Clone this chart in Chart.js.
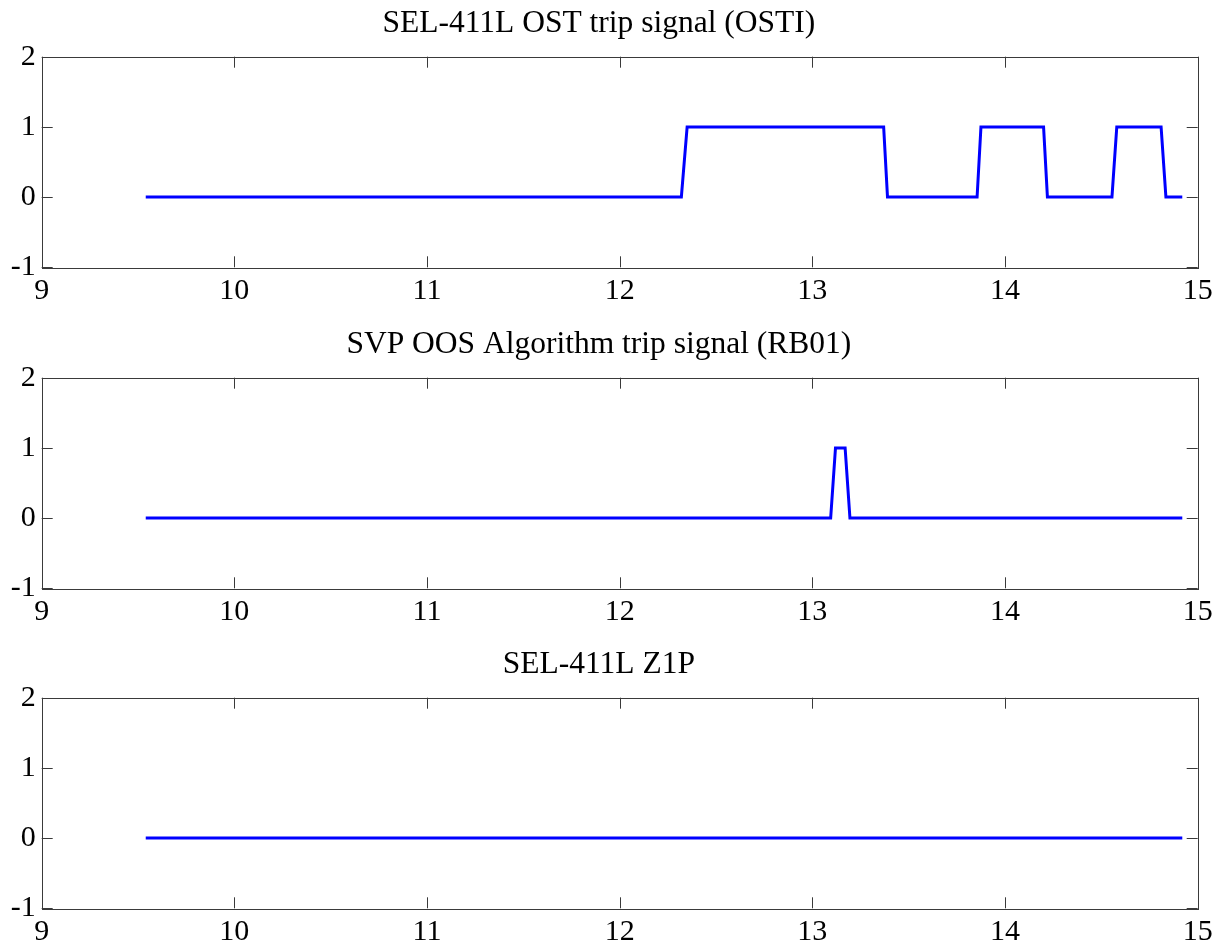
<!DOCTYPE html>
<html>
<head>
<meta charset="utf-8">
<script src="https://cdn.jsdelivr.net/npm/chart.js@4.4.1/dist/chart.umd.min.js"></script>
<style>
  html, body { margin: 0; padding: 0; background: #fff; }
  body { width: 1226px; height: 949px; position: relative; overflow: hidden; }
  canvas { position: absolute; left: 0; }
</style>
</head>
<body>
<canvas id="c1" width="1226" height="320" style="top:0px"></canvas>
<canvas id="c2" width="1226" height="320" style="top:320.5px"></canvas>
<canvas id="c3" width="1226" height="308" style="top:641px"></canvas>
<script>
// Dados (tempo em s, sinal 0/1)
const titles = [
  "SEL-411L OST trip signal (OSTI)",
  "SVP OOS Algorithm trip signal (RB01)",
  "SEL-411L Z1P",
];

const ostiTime = [9.54, 12.32, 12.35, 13.37, 13.39, 13.855, 13.875, 14.2, 14.22, 14.555, 14.58, 14.81, 14.835, 14.92];
const ostiValue = [0, 0, 1, 1, 0, 0, 1, 1, 0, 0, 1, 1, 0, 0];

const rb01Time = [9.54, 13.095, 13.12, 13.17, 13.195, 14.92];
const rb01Value = [0, 0, 1, 1, 0, 0];

const z1pTime = [9.54, 14.92];
const z1pValue = [0, 0];

const xTicks = [9, 10, 11, 12, 13, 14, 15];
const yTicks = [-1, 0, 1, 2];

const FONT = "'Liberation Serif', 'Times New Roman', serif";
const AXIS_COLOR = "#3a3a3a";
const TICK_LEN = 11;

/**
 * Desenha a caixa dos eixos e os ticks internos (estilo MATLAB)
 */
const boxPlugin = {
  id: "matlabBox",
  afterDatasetsDraw(chart) {
    const { ctx, chartArea: a, scales } = chart;
    ctx.save();
    ctx.strokeStyle = AXIS_COLOR;
    ctx.lineWidth = 1;
    ctx.beginPath();
    xTicks.forEach((v) => {
      const px = Math.round(scales.x.getPixelForValue(v)) + 0.5;
      ctx.moveTo(px, a.bottom);
      ctx.lineTo(px, a.bottom - TICK_LEN);
      ctx.moveTo(px, a.top);
      ctx.lineTo(px, a.top + TICK_LEN);
    });
    yTicks.forEach((v) => {
      const py = Math.round(scales.y.getPixelForValue(v)) + 0.5;
      ctx.moveTo(a.left, py);
      ctx.lineTo(a.left + TICK_LEN, py);
      ctx.moveTo(a.right, py);
      ctx.lineTo(a.right - TICK_LEN, py);
    });
    ctx.stroke();
    ctx.strokeRect(
      Math.round(a.left) + 0.5,
      Math.round(a.top) + 0.5,
      Math.round(a.right - a.left),
      Math.round(a.bottom - a.top)
    );
    ctx.restore();
  },
};

function makePoints(times, values) {
  return times.map((t, i) => ({ x: t, y: values[i] }));
}

function createSubplot(canvasId, title, times, values, xAxisHeight) {
  const ctx = document.getElementById(canvasId);
  return new Chart(ctx, {
    type: "line",
    data: {
      datasets: [
        {
          data: makePoints(times, values),
          borderColor: "#0000ff",
          borderWidth: 3,
          pointRadius: 0,
          tension: 0,
          fill: false,
        },
      ],
    },
    options: {
      responsive: false,
      animation: false,
      layout: { padding: { top: 0, right: 28.3, bottom: 0, left: 0 } },
      plugins: {
        legend: { display: false },
        tooltip: { enabled: false },
        title: {
          display: true,
          text: title,
          color: "#000",
          font: { family: FONT, size: 31.5, weight: "normal", lineHeight: 1.2 },
          padding: { top: 5.2, bottom: 13.7 },
        },
      },
      scales: {
        x: {
          type: "linear",
          min: 9,
          max: 15,
          afterFit: (scale) => { scale.height = xAxisHeight; },
          afterBuildTicks: (scale) => { scale.ticks = xTicks.map((v) => ({ value: v })); },
          grid: { display: false, drawTicks: false },
          border: { display: false },
          ticks: {
            color: "#000",
            padding: 6,
            maxRotation: 0,
            autoSkip: false,
            font: { family: FONT, size: 30 },
          },
        },
        y: {
          type: "linear",
          min: -1,
          max: 2,
          afterFit: (scale) => { scale.width = 41.7; },
          afterBuildTicks: (scale) => { scale.ticks = yTicks.map((v) => ({ value: v })); },
          grid: { display: false, drawTicks: false },
          border: { display: false },
          ticks: {
            color: "#000",
            padding: 6,
            font: { family: FONT, size: 30 },
          },
        },
      },
    },
    plugins: [boxPlugin],
  });
}

createSubplot("c1", titles[0], ostiTime, ostiValue, 320 - 267.3);
createSubplot("c2", titles[1], rb01Time, rb01Value, 320 - 267.3);
createSubplot("c3", titles[2], z1pTime, z1pValue, 308 - 267.3);
</script>
</body>
</html>
